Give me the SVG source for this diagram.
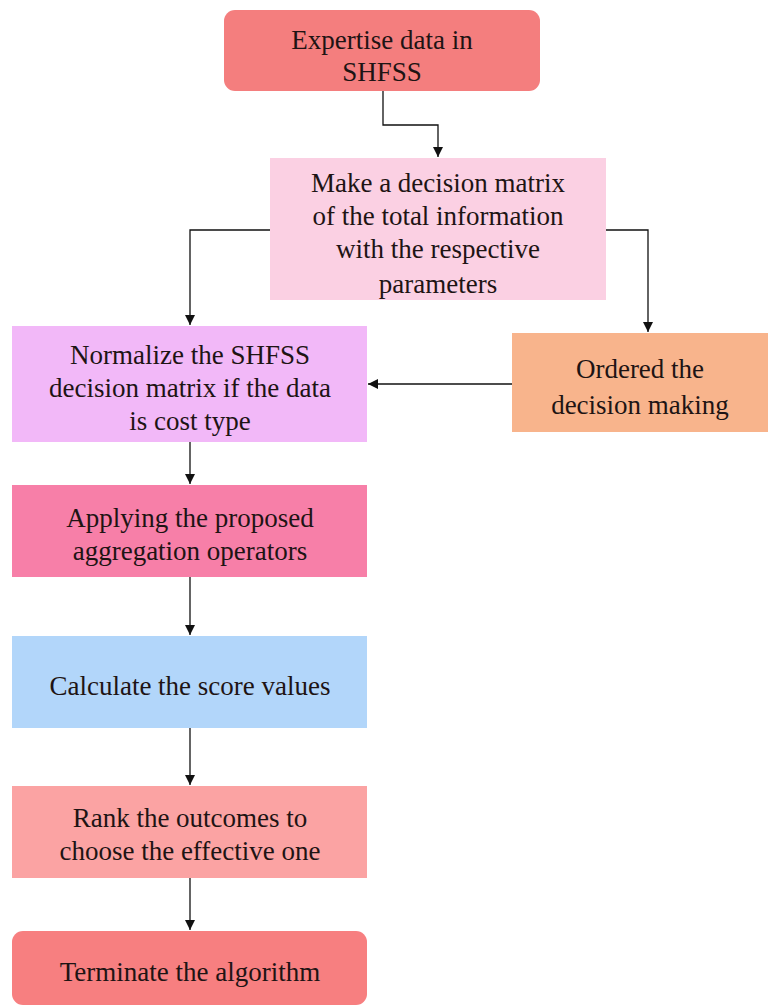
<svg xmlns="http://www.w3.org/2000/svg" width="768" height="1007" viewBox="0 0 768 1007">
<style>
text{font-family:'Liberation Serif','Times New Roman','DejaVu Serif',serif;font-size:27px;fill:#1e1414;text-anchor:middle}
.c{fill:none;stroke:#111;stroke-width:1.3}
</style>
<defs>
<marker id="ah" viewBox="0 0 10 10" refX="10" refY="5" markerWidth="10" markerHeight="10" markerUnits="userSpaceOnUse" orient="auto">
<path d="M0,0 L10,5 L0,10 z" fill="#111"/>
</marker>
</defs>
<rect width="768" height="1007" fill="#fff"/>
<g id="connectors">
<path class="c" d="M383,91 V125 H438 V157" marker-end="url(#ah)"/>
<path class="c" d="M270,230 H190 V325" marker-end="url(#ah)"/>
<path class="c" d="M606,230 H648 V332" marker-end="url(#ah)"/>
<path class="c" d="M512,384 H368" marker-end="url(#ah)"/>
<path class="c" d="M190,442 V484" marker-end="url(#ah)"/>
<path class="c" d="M190,577 V635" marker-end="url(#ah)"/>
<path class="c" d="M190,728 V785" marker-end="url(#ah)"/>
<path class="c" d="M190,878 V930" marker-end="url(#ah)"/>
</g>
<g id="n1">
<rect x="224" y="10" width="316" height="81" rx="11" fill="#F47E7E"/>
<text x="382" y="49">Expertise data in</text>
<text x="382" y="81">SHFSS</text>
</g>
<g id="n2">
<rect x="270" y="158" width="336" height="142" fill="#FBD0E3"/>
<text x="438" y="192">Make a decision matrix</text>
<text x="438" y="225">of the total information</text>
<text x="438" y="258">with the respective</text>
<text x="438" y="293">parameters</text>
</g>
<g id="n3">
<rect x="12" y="326" width="355" height="116" fill="#F2B8F8"/>
<text x="190" y="364">Normalize the SHFSS</text>
<text x="190" y="397">decision matrix if the data</text>
<text x="190" y="430">is cost type</text>
</g>
<g id="n4">
<rect x="512" y="333" width="256" height="99" fill="#F8B48C"/>
<text x="640" y="378">Ordered the</text>
<text x="640" y="414">decision making</text>
</g>
<g id="n5">
<rect x="12" y="485" width="355" height="92" fill="#F77FA8"/>
<text x="190" y="527">Applying the proposed</text>
<text x="190" y="560">aggregation operators</text>
</g>
<g id="n6">
<rect x="12" y="636" width="355" height="92" fill="#B2D6FA"/>
<text x="190" y="695">Calculate the score values</text>
</g>
<g id="n7">
<rect x="12" y="786" width="355" height="92" fill="#FBA3A3"/>
<text x="190" y="827">Rank the outcomes to</text>
<text x="190" y="860">choose the effective one</text>
</g>
<g id="n8">
<rect x="12" y="931" width="355" height="74" rx="11" fill="#F77F80"/>
<text x="190" y="981">Terminate the algorithm</text>
</g>
</svg>
